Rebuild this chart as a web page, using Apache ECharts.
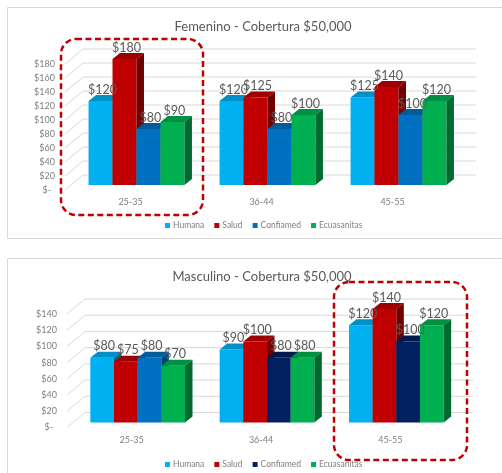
<!DOCTYPE html>
<html>
<head>
<meta charset="utf-8">
<script src="https://cdn.jsdelivr.net/npm/echarts@6/dist/echarts.min.js"></script>
<style>
  html, body { margin: 0; padding: 0; background: #ffffff; }
  #chart { width: 502px; height: 473px; }
</style>
</head>
<body>
<div id="chart"></div>
<script>
// ---- data ----
const categories = ['25-35', '36-44', '45-55'];
const seriesNames = ['Humana', 'Salud', 'Confiamed', 'Ecuasanitas'];

const femHumana = [120, 120, 125];
const femSalud = [180, 125, 140];
const femConfiamed = [80, 80, 100];
const femEcuasanitas = [90, 100, 120];

const mascHumana = [80, 90, 120];
const mascSalud = [75, 100, 140];
const mascConfiamed = [80, 80, 100];
const mascEcuasanitas = [70, 80, 120];

const femTicks = [0, 20, 40, 60, 80, 100, 120, 140, 160, 180];
const mascTicks = [0, 20, 40, 60, 80, 100, 120, 140];

const femTitle = 'Femenino - Cobertura $50,000';
const mascTitle = 'Masculino - Cobertura $50,000';

// ---- styles ----
const FONT = 'Lato, "Liberation Sans", sans-serif';
const colors = { Humana: '#00B0F0', Salud: '#C00000', Confiamed: '#0070C0', Ecuasanitas: '#00B050' };
const mascConfiamedShades = ['#0070C0', '#002060', '#002060'];

const BAR_FRAC = 0.183;      // bar width as a share of the category band
const SHIFT = [6, -5];       // bar plane relative to the floor's front edge
const DEPTH = [7.5, -6];     // bar depth (oblique projection)
const WALL = [18, -15];      // floor depth up to the back wall

function shade(hex, k) {
  const n = parseInt(hex.slice(1), 16);
  const r = Math.round(((n >> 16) & 255) * k);
  const g = Math.round(((n >> 8) & 255) * k);
  const b = Math.round((n & 255) * k);
  return 'rgb(' + r + ',' + g + ',' + b + ')';
}

function pairs(values) {
  return values.map((v, i) => [i, v]);
}

function barGeom(api, slot) {
  const cat = api.value(0), v = api.value(1);
  const base = api.coord([cat, 0]);
  const top = api.coord([cat, v]);
  const band = api.size([1, 0])[0];
  const bw = band * BAR_FRAC;
  const x0 = base[0] + (slot - 2) * bw + SHIFT[0];
  const yb = base[1] + SHIFT[1];
  const yt = top[1] + SHIFT[1];
  return { x0, bw, yb, yt, v };
}

function barSeries(gridIdx, name, slot, values, colorFn) {
  return {
    type: 'custom', name: name,
    xAxisIndex: gridIdx, yAxisIndex: gridIdx,
    itemStyle: { color: colorFn(0) },
    z: 3,
    data: pairs(values),
    renderItem: function (params, api) {
      const g = barGeom(api, slot);
      const c = colorFn(params.dataIndex);
      const x1 = g.x0 + g.bw;
      return {
        type: 'group',
        children: [
          { type: 'rect', shape: { x: g.x0, y: g.yt, width: g.bw, height: g.yb - g.yt }, style: { fill: c } },
          { type: 'polygon', shape: { points: [[g.x0, g.yt], [x1, g.yt], [x1 + DEPTH[0], g.yt + DEPTH[1]], [g.x0 + DEPTH[0], g.yt + DEPTH[1]]] },
            style: { fill: shade(c, 0.82) } },
          { type: 'polygon', shape: { points: [[x1, g.yt], [x1, g.yb], [x1 + DEPTH[0], g.yb + DEPTH[1]], [x1 + DEPTH[0], g.yt + DEPTH[1]]] },
            style: { fill: shade(c, 0.6) } }
        ]
      };
    }
  };
}

function labelSeries(gridIdx, name, slot, values) {
  return {
    type: 'custom', name: name,
    xAxisIndex: gridIdx, yAxisIndex: gridIdx,
    z: 6, silent: true,
    data: pairs(values),
    renderItem: function (params, api) {
      const g = barGeom(api, slot);
      return {
        type: 'text',
        style: {
          x: g.x0 + g.bw / 2 + 2, y: g.yt + DEPTH[1] + 1,
          text: '$' + g.v,
          fill: '#595959', font: '12.5px ' + FONT,
          align: 'center', verticalAlign: 'bottom'
        }
      };
    }
  };
}

// back wall lines plus the oblique lines on the side wall
function wallSeries(gridIdx, ticks) {
  return {
    type: 'custom', xAxisIndex: gridIdx, yAxisIndex: gridIdx,
    z: 1, silent: true,
    data: ticks.map(t => [0, t]),
    renderItem: function (params, api) {
      const cs = params.coordSys;
      const y = api.coord([0, api.value(1)])[1];
      const xb = cs.x + WALL[0], yb = y + WALL[1];
      return {
        type: 'polyline',
        shape: { points: [[cs.x, y], [xb, yb], [xb + cs.width, yb]] },
        style: { stroke: '#d9d9d9', lineWidth: 1, fill: null }
      };
    }
  };
}

function moneyLabel(v) {
  return v === 0 ? '{z|$-}' : '$' + v;
}

const axisLabelStyle = { color: '#7f7f7f', fontSize: 9, fontFamily: FONT };

const grids = [
  { left: 65, top: 64, width: 393, height: 126 },
  { left: 67, top: 314, width: 388, height: 113.5 }
];

function xAxis(gridIdx) {
  return {
    type: 'category', gridIndex: gridIdx, data: categories,
    axisLine: { show: false }, axisTick: { show: false },
    axisLabel: Object.assign({ margin: 8 }, axisLabelStyle)
  };
}
function yAxis(gridIdx, max) {
  return {
    type: 'value', gridIndex: gridIdx, min: 0, max: max, interval: 20,
    axisLine: { show: false }, axisTick: { show: false }, splitLine: { show: false },
    axisLabel: Object.assign({ margin: 10, formatter: moneyLabel,
      rich: { z: Object.assign({ padding: [0, 4, 0, 0] }, axisLabelStyle) } }, axisLabelStyle)
  };
}

const femValues = [femHumana, femSalud, femConfiamed, femEcuasanitas];
const mascValues = [mascHumana, mascSalud, mascConfiamed, mascEcuasanitas];

const series = [wallSeries(0, femTicks), wallSeries(1, mascTicks)];
seriesNames.forEach((name, i) => {
  series.push(barSeries(0, name, i, femValues[i], () => colors[name]));
});
seriesNames.forEach((name, i) => {
  const colorFn = name === 'Confiamed' ? (k) => mascConfiamedShades[k] : () => colors[name];
  series.push(barSeries(1, name, i, mascValues[i], colorFn));
});
seriesNames.forEach((name, i) => series.push(labelSeries(0, name, i, femValues[i])));
seriesNames.forEach((name, i) => series.push(labelSeries(1, name, i, mascValues[i])));

function legend(top, confColor) {
  return {
    top: top, left: 160, itemWidth: 5, itemHeight: 5, itemGap: 10, icon: 'rect',
    selectedMode: false,
    textStyle: { color: '#7f7f7f', fontSize: 8.5, fontFamily: FONT, padding: [0, 0, 0, -2] },
    data: seriesNames.map(n => ({ name: n, itemStyle: { color: n === 'Confiamed' ? confColor : colors[n] } }))
  };
}

const chart = echarts.init(document.getElementById('chart'), null, { renderer: 'canvas' });
chart.setOption({
  backgroundColor: '#ffffff',
  animation: false,
  title: [
    { text: femTitle, left: 258, textAlign: 'center', top: 15,
      textStyle: { color: '#595959', fontSize: 13, fontWeight: 'normal', fontFamily: FONT } },
    { text: mascTitle, left: 257, textAlign: 'center', top: 265,
      textStyle: { color: '#595959', fontSize: 13, fontWeight: 'normal', fontFamily: FONT } }
  ],
  legend: [legend(216, colors.Confiamed), legend(455, mascConfiamedShades[2])],
  grid: grids,
  xAxis: [xAxis(0), xAxis(1)],
  yAxis: [yAxis(0, 180), yAxis(1, 140)],
  series: series,
  graphic: [
    { type: 'rect', z: -10, shape: { x: 7.5, y: 7.5, width: 520, height: 231 },
      style: { fill: '#ffffff', stroke: '#d9d9d9', lineWidth: 1 } },
    { type: 'rect', z: -10, shape: { x: 7.5, y: 258.5, width: 520, height: 240 },
      style: { fill: '#ffffff', stroke: '#d9d9d9', lineWidth: 1 } },
    { type: 'rect', z: 100, shape: { x: 61, y: 39, width: 142, height: 176, r: 15 },
      style: { fill: null, stroke: '#C00000', lineWidth: 2.5, lineDash: [6, 3.5] } },
    { type: 'rect', z: 100, shape: { x: 334, y: 282, width: 133, height: 178, r: 15 },
      style: { fill: null, stroke: '#C00000', lineWidth: 2.5, lineDash: [6, 3.5] } }
  ]
});
</script>
</body>
</html>
